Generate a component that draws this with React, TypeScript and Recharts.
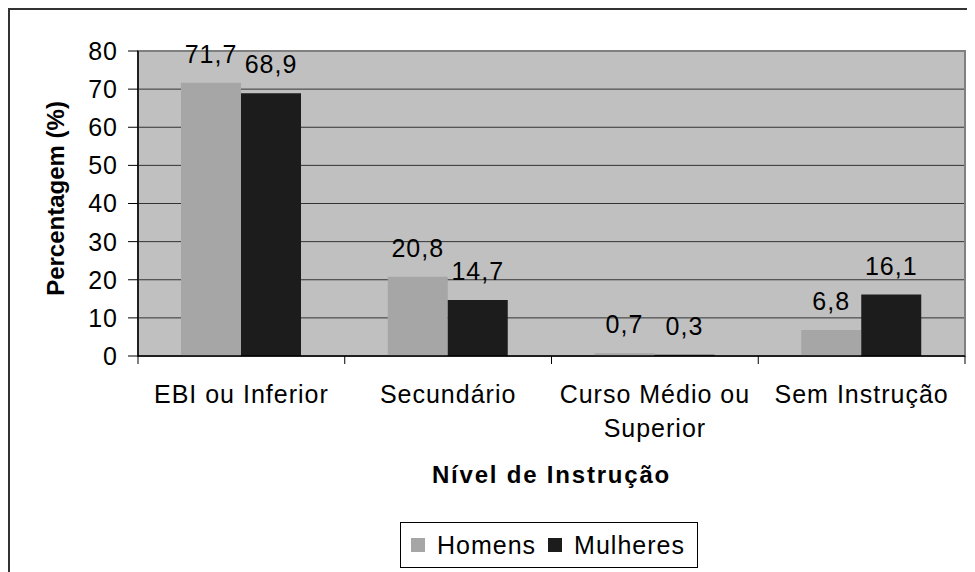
import React from 'react';
import { BarChart, Bar, XAxis, YAxis, CartesianGrid, LabelList, Legend, ReferenceArea } from 'recharts';

const categories = ['EBI ou Inferior', 'Secundário', 'Curso Médio ou Superior', 'Sem Instrução'];
const homens = [71.7, 20.8, 0.7, 6.8];
const mulheres = [68.9, 14.7, 0.3, 16.1];
const yTicks = [0, 10, 20, 30, 40, 50, 60, 70, 80];
const seriesNames = ['Homens', 'Mulheres'];
const seriesColors = ['#A6A6A6', '#1C1C1C'];

const data = categories.map((c, i) => ({ name: c, Homens: homens[i], Mulheres: mulheres[i] }));

const FONT = '"Liberation Sans", Arial, sans-serif';

const wrapWords = (s: string, maxChars: number) => {
  const words = s.split(' ');
  const lines: string[] = [];
  let cur = '';
  for (const w of words) {
    const next = cur ? cur + ' ' + w : w;
    if (next.length > maxChars && cur) {
      lines.push(cur);
      cur = w;
    } else cur = next;
  }
  if (cur) lines.push(cur);
  return lines;
};

const CategoryTick = (props: any) => {
  const { x, y, payload, index, visibleTicksCount } = props;
  const half = payload?.offset ?? 0;
  const lines = wrapWords(String(payload.value), 15);
  return (
    <g>
      <line x1={x - half} x2={x - half} y1={y} y2={y + 8} stroke="#000" strokeWidth={1} />
      {index === visibleTicksCount - 1 && (
        <line x1={x + half} x2={x + half} y1={y} y2={y + 8} stroke="#000" strokeWidth={1} />
      )}
      <text x={x} y={y + 47} textAnchor="middle" fontSize={25} letterSpacing={1} fill="#000" fontFamily={FONT}>
        {lines.map((l, i) => (
          <tspan key={i} x={x} dy={i === 0 ? 0 : 34}>{l}</tspan>
        ))}
      </text>
    </g>
  );
};

const fmt = (v: any) => String(v).replace('.', ',');

const LegendContent = () => (
  <div
    style={{
      width: 298,
      height: 46,
      boxSizing: 'border-box',
      border: '1px solid #000',
      background: '#fff',
      display: 'flex',
      alignItems: 'center',
      fontFamily: FONT,
      fontSize: 25,
      letterSpacing: 1,
      color: '#000',
    }}
  >
    {seriesNames.map((n, i) => (
      <div key={n} style={{ display: 'flex', alignItems: 'center', marginLeft: i === 0 ? 10 : 12 }}>
        <div style={{ width: 14, height: 14, background: seriesColors[i], marginRight: 12 }} />
        <span>{n}</span>
      </div>
    ))}
  </div>
);

export default function App() {
  return (
    <div
      style={{
        width: 967,
        height: 564,
        boxSizing: 'border-box',
        borderTop: '2px solid #333',
        borderLeft: '2px solid #333',
        background: '#fff',
        position: 'relative',
        fontFamily: FONT,
      }}
    >
      <BarChart
        width={965}
        height={562}
        data={data}
        margin={{ top: 41, right: 10, bottom: 0, left: 0 }}
        barGap={0}
        barSize={60}
      >
        <CartesianGrid vertical={false} stroke="#333" fill="#C0C0C0" fillOpacity={1} />
        <ReferenceArea y1={0} y2={80} fill="none" stroke="#808080" strokeWidth={2} />
        <XAxis
          dataKey="name"
          height={216}
          axisLine={{ stroke: '#000', strokeWidth: 1.5 }}
          tickLine={false}
          tickSize={0}
          tickMargin={0}
          interval={0}
          tick={<CategoryTick />}
          label={(p: any) => {
            const vb = p.viewBox;
            return (
              <text
                x={vb.x + vb.width / 2}
                y={vb.y + 127}
                textAnchor="middle"
                fontSize={24}
                fontWeight="bold"
                letterSpacing={1.8}
                fill="#000"
                fontFamily={FONT}
              >
                Nível de Instrução
              </text>
            );
          }}
        />
        <YAxis
          width={128}
          domain={[0, 80]}
          ticks={yTicks}
          interval={0}
          axisLine={{ stroke: '#000', strokeWidth: 1.5 }}
          tickLine={{ stroke: '#000' }}
          tickSize={10}
          tickMargin={10}
          tick={{ fontSize: 25, letterSpacing: 1, fill: '#000', fontFamily: FONT }}
          label={(p: any) => {
            const vb = p.viewBox;
            const cx = vb.x + 54;
            const cy = vb.y + vb.height / 2 - 5;
            return (
              <text
                x={cx}
                y={cy}
                transform={`rotate(-90 ${cx} ${cy})`}
                textAnchor="middle"
                fontSize={24}
                fontWeight="bold"
                fill="#000"
                fontFamily={FONT}
              >
                Percentagem (%)
              </text>
            );
          }}
        />
        <Legend
          verticalAlign="middle"
          align="center"
          layout="horizontal"
          content={<LegendContent />}
          wrapperStyle={{ left: 390, top: 512, width: 298, height: 46 }}
        />
        <Bar dataKey="Homens" fill={seriesColors[0]} isAnimationActive={false}>
          <LabelList
            dataKey="Homens"
            position="top"
            offset={20}
            formatter={fmt}
            style={{ fontSize: 25, letterSpacing: 1, fill: '#000', fontFamily: FONT }}
          />
        </Bar>
        <Bar dataKey="Mulheres" fill={seriesColors[1]} isAnimationActive={false}>
          <LabelList
            dataKey="Mulheres"
            position="top"
            offset={20}
            formatter={fmt}
            style={{ fontSize: 25, letterSpacing: 1, fill: '#000', fontFamily: FONT }}
          />
        </Bar>
      </BarChart>
    </div>
  );
}
